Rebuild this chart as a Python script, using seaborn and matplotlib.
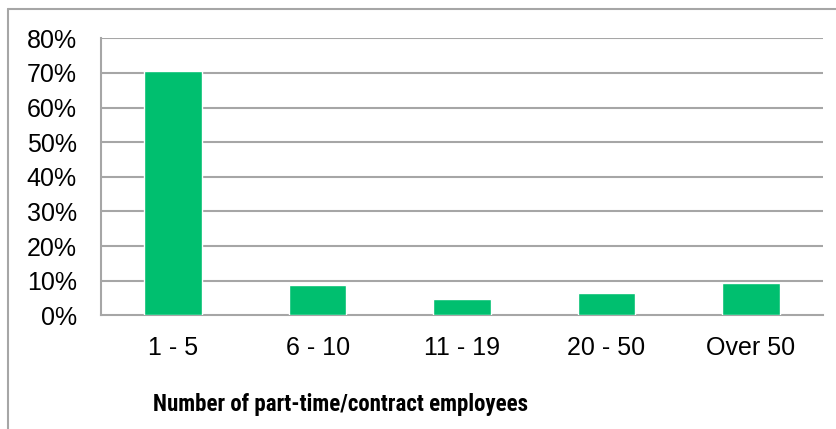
import matplotlib
matplotlib.use("Agg")
import matplotlib.pyplot as plt
import seaborn as sns
import pandas as pd
from matplotlib import font_manager
from matplotlib.lines import Line2D
from matplotlib.ticker import FixedLocator, PercentFormatter

categories = ["1 - 5", "6 - 10", "11 - 19", "20 - 50", "Over 50"]
shares = [0.705, 0.087, 0.047, 0.064, 0.093]
y_ticks = [0.0, 0.1, 0.2, 0.3, 0.4, 0.5, 0.6, 0.7, 0.8]

df = pd.DataFrame({"group": categories, "share": shares})

sns.set_style("white")
plt.rcParams["font.family"] = ["Liberation Sans", "DejaVu Sans"]
plt.rcParams["text.color"] = "black"
plt.rcParams["xtick.labelcolor"] = "black"
plt.rcParams["ytick.labelcolor"] = "black"

# pick a narrow face for the axis title if one is installed
installed = {f.name for f in font_manager.fontManager.ttflist}
narrow = [n for n in ["Liberation Sans Narrow", "Roboto Condensed", "Open Sans Condensed",
                      "DejaVu Sans Condensed", "Noto Sans Condensed"] if n in installed]
title_font = narrow[0] if narrow else "Liberation Sans"
title_size = 16.5 if narrow else 14.5

W, H = 837, 429
fig = plt.figure(figsize=(W / 100, H / 100), dpi=100)
ax = fig.add_axes([101 / W, 1 - 315.3 / H, 722 / W, (315.3 - 38.3) / H])

sns.barplot(data=df, x="group", y="share", color="#00BF6F", width=0.4,
            saturation=1, ax=ax, zorder=3)

grid_c = "#A6A6A6"
ax.set_ylim(0, 0.8)
ax.set_xlim(-0.5, 4.5)
ax.set_yticks(y_ticks)
ax.yaxis.set_major_formatter(PercentFormatter(1.0, decimals=0))
for y in y_ticks[1:]:
    ax.axhline(y, color=grid_c, lw=1.5, zorder=1)

ax.xaxis.set_minor_locator(FixedLocator([i - 0.5 for i in range(len(categories) + 1)]))
ax.tick_params(axis="x", which="major", length=0, pad=15, labelsize=18, labelcolor="black")
ax.tick_params(axis="x", which="minor", length=6, width=1.5, color=grid_c, direction="out")
ax.tick_params(axis="y", length=4.3, width=1.5, color=grid_c, direction="out",
               labelsize=18, pad=13, labelcolor="black")

for s in ["top", "right"]:
    ax.spines[s].set_visible(False)
for s in ["left", "bottom"]:
    ax.spines[s].set_color(grid_c)
    ax.spines[s].set_linewidth(1.5)

ax.set_xlabel("")
ax.set_ylabel("")
fig.text(341 / W, 1 - 404 / H, "Number of part-time/contract employees",
         ha="center", va="center", fontsize=title_size, fontweight="bold",
         color="black", family=[title_font, "DejaVu Sans"])

# outer chart frame (clipped at right and bottom like the screenshot)
fig.add_artist(Line2D([8.5 / W, 8.5 / W], [0, 1 - 8.5 / H], color="#A6A6A6", lw=1.5))
fig.add_artist(Line2D([8.5 / W, 1], [1 - 8.5 / H, 1 - 8.5 / H], color="#A6A6A6", lw=1.5))

fig.savefig("out.png", dpi=100)
